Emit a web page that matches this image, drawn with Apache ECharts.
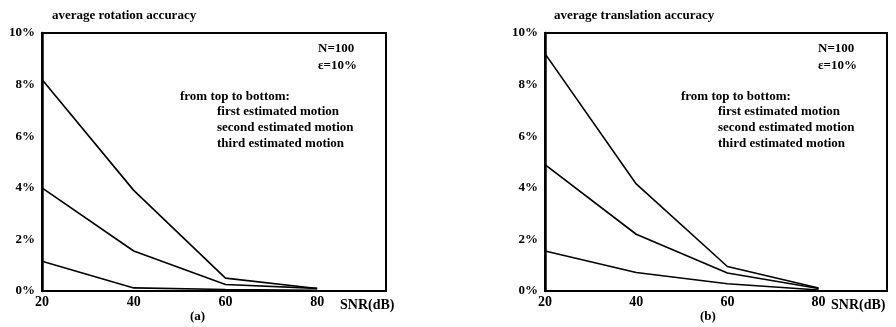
<!DOCTYPE html>
<html><head><meta charset="utf-8">
<script src="https://cdn.jsdelivr.net/npm/echarts@6/dist/echarts.min.js"></script>
<style>html,body{margin:0;padding:0;background:#fff}#c{width:896px;height:327px}</style>
</head><body><div id="c"></div>
<script>
const snr = [20, 40, 60, 80];
const xTicks = [20, 40, 60, 80];
const yTicks = [0, 2, 4, 6, 8, 10];
// (a) average rotation accuracy (%)
const rotFirst  = [8.2, 3.9, 0.5, 0.1];
const rotSecond = [4.0, 1.55, 0.25, 0.1];
const rotThird  = [1.15, 0.12, 0.06, 0.03];
// (b) average translation accuracy (%)
const trFirst  = [9.2, 4.15, 0.95, 0.12];
const trSecond = [4.9, 2.2, 0.7, 0.1];
const trThird  = [1.55, 0.72, 0.28, 0.04];

const FONT = '"Liberation Serif", "DejaVu Serif", serif';
const chart = echarts.init(document.getElementById('c'));
const pair = (xs, ys) => xs.map((x, i) => [x, ys[i]]);

function xAxis(gi) {
  return {
    type: 'value', gridIndex: gi, min: 20, max: 95, interval: 20,
    axisLine: { show: true, lineStyle: { color: '#000', width: 2 } },
    axisTick: { show: false }, splitLine: { show: false },
    axisLabel: { customValues: xTicks, color: '#000', fontFamily: FONT, fontWeight: 'bold', fontSize: 14, margin: 4 }
  };
}
function yAxis(gi) {
  return {
    type: 'value', gridIndex: gi, min: 0, max: 10, interval: 2,
    axisLine: { show: true, lineStyle: { color: '#000', width: 2.5 } },
    axisTick: { show: false }, splitLine: { show: false },
    axisLabel: { customValues: yTicks, formatter: '{value}%', color: '#000', fontFamily: FONT, fontWeight: 'bold', fontSize: 13, margin: 7, padding: [10, 0, 0, 0] }
  };
}
function line(gi, data) {
  return { type: 'line', xAxisIndex: gi, yAxisIndex: gi, data: data, symbol: 'none',
    lineStyle: { color: '#000', width: 1.6 }, silent: true, animation: false };
}
function txt(x, yc, s, size) {
  return { type: 'text', left: x, top: yc - Math.round((size || 13) / 2) - 1,
    style: { text: s, fill: '#000', font: 'bold ' + (size || 13) + 'px ' + FONT } };
}

const option = {
  animation: false,
  grid: [
    { left: 42, top: 33, width: 344, height: 258, show: true, borderColor: '#000', borderWidth: 2 },
    { left: 545, top: 33, width: 342, height: 258, show: true, borderColor: '#000', borderWidth: 2 }
  ],
  xAxis: [xAxis(0), xAxis(1)],
  yAxis: [yAxis(0), yAxis(1)],
  series: [
    line(0, pair(snr, rotFirst)), line(0, pair(snr, rotSecond)), line(0, pair(snr, rotThird)),
    line(1, pair(snr, trFirst)), line(1, pair(snr, trSecond)), line(1, pair(snr, trThird))
  ],
  graphic: [
    txt(52, 17, 'average rotation accuracy', 13),
    txt(554, 17, 'average translation accuracy', 13),
    txt(318, 50, 'N=100'), txt(318, 67, 'ε=10%'),
    txt(180, 98, 'from top to bottom:'),
    txt(217, 113, 'first estimated motion'),
    txt(217, 129, 'second estimated motion'),
    txt(217, 145, 'third estimated motion'),
    txt(818, 50, 'N=100'), txt(818, 67, 'ε=10%'),
    txt(681, 98, 'from top to bottom:'),
    txt(718, 113, 'first estimated motion'),
    txt(718, 129, 'second estimated motion'),
    txt(718, 145, 'third estimated motion'),
    txt(340, 306, 'SNR(dB)', 14),
    txt(190, 318, '(a)'),
    txt(831, 306, 'SNR(dB)', 14),
    txt(700, 318, '(b)')
  ]
};
chart.setOption(option);
</script></body></html>
